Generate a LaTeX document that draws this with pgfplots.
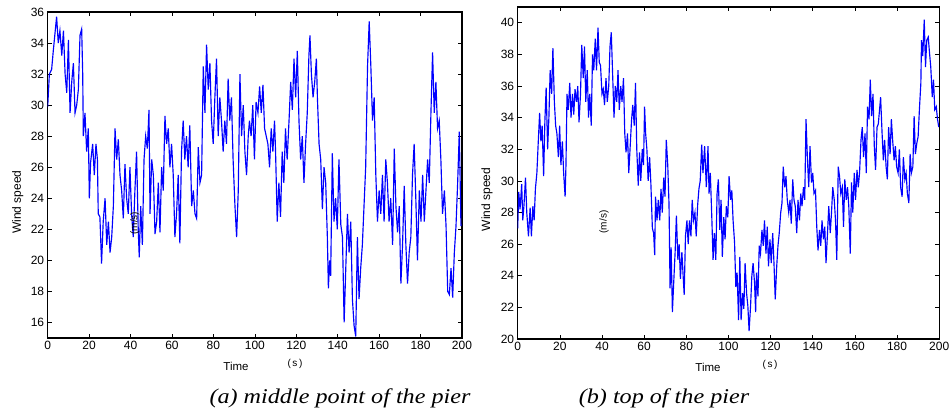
\documentclass[border=0pt]{standalone}
\usepackage{fontspec}
\setmainfont{Liberation Sans}
\newfontfamily\capfont[FakeStretch=1.15]{Liberation Serif}
\usepackage{pgfplots}
\pgfplotsset{compat=1.18}

% wind speed at the middle point of the pier
\pgfplotstableread{
t y
0 29.9
0.8 32.0
1.9 32.3
2.7 33.5
3.5 34.6
4.3 35.7
5.1 34.0
5.9 34.8
6.8 33.2
7.6 34.8
8.4 32.0
9.2 30.8
10.0 34.2
10.8 29.5
11.6 31.5
12.4 32.7
13.2 29.5
14.0 30.0
14.8 31.0
15.6 34.5
16.4 34.9
16.9 32.0
17.2 28.0
18.0 29.5
18.8 27.0
19.6 28.5
20.1 24.0
20.7 26.3
21.7 27.5
22.5 25.5
23.3 27.5
24.0 26.5
24.4 23.0
25.2 22.8
26.0 19.8
26.8 22.5
27.7 24.0
28.5 21.0
29.3 22.5
30.1 20.5
30.9 21.5
31.7 23.5
32.5 28.5
33.3 26.5
34.1 27.8
34.9 25.5
35.7 24.5
36.5 22.7
37.3 26.2
38.1 24.0
38.9 23.0
39.7 26.0
40.5 23.0
41.3 21.5
42.1 24.5
42.9 27.0
43.7 22.0
44.2 20.2
44.9 23.5
45.7 21.0
46.5 26.5
47.3 28.0
48.1 27.2
48.9 29.7
49.4 23.0
50.2 26.5
51.0 25.5
51.8 21.7
52.6 22.5
53.4 25.0
54.2 21.8
55.0 26.0
55.8 24.5
56.6 29.3
57.4 27.5
58.2 28.5
59.0 26.0
59.8 27.5
60.6 25.5
61.4 21.5
62.2 23.0
63.0 25.5
63.8 21.1
64.6 27.0
65.4 29.0
66.2 26.5
67.0 28.0
67.8 26.0
68.6 28.7
69.5 23.5
70.3 24.5
71.1 23.0
71.9 22.7
72.7 27.3
73.5 25.0
74.3 25.5
75.1 32.5
75.9 29.5
76.7 33.9
77.5 31.0
78.3 32.7
79.1 29.0
79.9 27.5
80.7 30.5
81.5 33.0
82.3 28.0
83.1 30.5
83.9 29.0
84.7 27.0
85.5 29.0
86.3 27.5
87.1 31.7
87.9 29.0
88.7 30.5
89.5 26.5
90.4 23.5
91.2 21.5
92.0 24.5
92.8 32.0
93.6 28.0
94.4 30.0
95.2 27.0
96.0 25.5
96.8 28.0
97.4 29.0
98.2 28.0
99.0 30.0
99.8 26.5
100.6 30.2
101.5 29.5
102.3 31.2
103.1 29.5
103.9 31.3
104.7 28.5
105.5 28.0
106.3 27.5
107.1 26.0
107.9 28.5
108.7 27.0
109.5 29.0
110.0 27.0
110.8 22.5
111.6 25.0
112.4 22.8
113.2 27.0
114.0 25.0
114.8 28.5
115.6 26.5
116.5 29.0
117.3 31.5
118.1 29.7
118.9 33.0
119.7 30.5
120.5 33.5
121.3 29.0
122.1 26.5
122.9 28.0
123.7 25.0
124.5 27.5
125.3 29.5
126.1 33.2
126.6 34.5
127.3 32.0
128.1 30.5
128.9 31.5
129.7 33.0
130.2 30.5
131.0 27.5
131.8 26.5
132.6 23.3
133.4 26.0
134.2 25.0
135.0 21.5
135.5 18.2
136.1 20.0
136.6 19.0
137.4 26.9
138.2 22.5
139.0 24.0
139.8 22.0
140.6 26.5
141.5 22.3
142.3 21.5
143.1 16.0
143.9 19.5
144.7 23.0
145.5 20.5
146.3 22.5
147.1 17.5
147.9 15.8
148.7 15.1
149.5 21.5
150.3 17.5
151.1 19.5
151.9 21.0
152.7 23.5
153.5 26.0
154.4 32.5
155.2 35.4
156.0 32.5
156.8 29.0
157.6 30.5
158.4 25.5
159.2 22.5
160.0 24.5
160.8 23.0
161.6 25.5
162.4 22.5
163.2 26.5
164.0 25.0
164.8 22.5
165.6 24.0
166.5 21.0
167.3 27.2
168.1 23.5
168.9 21.8
169.7 23.5
170.5 18.5
171.3 21.0
172.1 24.8
172.9 21.0
173.7 18.5
174.5 20.5
175.3 21.5
176.1 25.5
176.9 27.5
177.7 24.0
178.5 20.0
179.4 24.5
180.2 22.5
181.0 25.5
181.8 22.5
182.6 24.5
183.4 26.5
184.2 25.0
185.0 29.5
185.8 33.4
186.6 29.5
187.4 31.5
188.2 28.5
189.0 29.0
189.8 26.5
190.6 23.0
191.5 24.5
192.3 22.2
193.1 18.0
193.9 17.8
194.7 19.5
195.5 17.6
196.3 20.5
197.1 22.2
197.9 25.0
198.7 28.3
199.5 22.2
}\middata

% wind speed at the top of the pier
\pgfplotstableread{
t y
0 27.0
0.5 29.3
1.1 28.2
1.9 29.8
2.4 27.5
3.0 28.5
3.7 30.2
4.3 28.0
5.1 26.5
5.9 28.3
6.5 26.5
7.2 28.4
7.8 27.5
8.4 29.5
9.1 30.5
9.7 32.3
10.4 34.3
11.0 32.5
11.6 33.5
12.3 30.3
12.9 33.8
13.5 35.9
14.2 32.0
14.8 34.0
15.4 37.0
16.1 35.5
16.7 38.4
17.4 35.0
18.0 33.5
18.6 33.0
19.3 31.5
19.9 33.5
20.5 31.0
21.2 32.5
21.8 30.5
22.5 29.0
22.9 31.0
23.4 35.5
24.0 34.5
24.7 36.2
25.3 34.0
26.0 35.5
26.6 34.2
27.2 35.8
27.9 35.0
28.5 36.0
29.1 33.7
29.8 35.5
30.4 38.6
31.1 36.5
31.7 38.5
32.3 35.0
33.0 37.0
33.6 34.0
34.2 35.5
34.9 33.5
35.5 38.0
36.1 37.0
36.8 39.0
37.4 37.0
38.1 39.7
38.7 37.5
39.3 37.3
40.0 35.5
40.6 35.8
41.2 34.8
41.9 36.5
42.5 35.0
43.2 36.0
43.8 38.5
44.4 39.4
45.1 36.5
45.7 34.0
46.3 36.0
47.0 35.0
47.6 37.0
48.2 34.5
48.9 36.0
49.5 35.0
50.2 36.5
50.8 33.0
51.4 31.8
52.1 33.0
52.7 30.5
53.3 32.0
54.0 33.8
54.6 34.8
55.3 33.5
55.9 36.2
56.5 32.0
57.2 29.7
57.8 31.8
58.4 30.0
59.1 32.0
59.7 31.0
60.2 34.7
60.7 33.0
61.3 32.0
61.9 30.0
62.6 31.5
63.2 29.8
63.9 27.0
64.5 26.7
65.0 25.3
65.4 29.0
66.1 27.5
66.7 28.8
67.4 27.5
68.0 29.5
68.6 28.0
69.3 30.2
69.9 29.0
70.5 32.6
71.2 31.0
71.8 28.5
72.3 23.2
72.8 25.8
73.4 21.7
74.0 23.5
74.7 25.5
75.3 27.8
76.0 25.0
76.6 26.0
77.2 23.8
77.9 25.5
78.5 24.0
79.0 22.8
79.6 26.5
80.3 27.5
80.9 26.0
81.5 27.5
82.2 26.5
82.8 28.8
83.4 27.5
84.1 28.0
84.7 26.5
85.4 28.5
86.0 29.5
86.6 30.0
87.3 32.3
87.9 30.5
88.7 32.2
89.5 29.6
90.3 32.2
90.8 29.2
91.4 30.5
92.1 27.7
92.7 25.0
93.3 26.7
94.0 25.0
94.6 29.2
95.2 30.1
95.9 26.9
96.5 28.8
97.1 25.2
97.8 27.7
98.4 26.3
99.0 28.4
99.7 27.7
100.3 30.3
101.0 28.8
101.6 29.4
102.2 27.5
102.9 26.1
103.5 23.3
104.1 24.2
104.8 21.2
105.4 25.2
106.0 21.2
106.7 22.9
107.3 21.9
107.9 24.8
108.6 22.9
109.2 22.1
109.8 20.5
110.5 22.1
111.1 24.0
111.7 24.8
112.4 23.5
112.9 21.7
113.3 24.2
114.0 22.7
114.6 25.9
115.2 25.4
115.9 26.9
116.5 25.9
117.1 27.5
117.8 25.4
118.4 27.1
119.0 24.6
119.7 26.3
120.3 24.8
121.0 26.7
121.6 24.8
122.2 22.5
122.9 24.6
123.5 25.9
124.1 26.7
124.8 28.0
125.4 28.6
126.0 30.9
126.7 29.6
127.3 30.3
127.9 28.8
128.6 28.0
129.2 28.8
129.8 27.3
130.5 30.1
131.1 28.8
131.7 28.4
132.4 26.7
133.0 28.8
133.7 27.5
134.3 29.2
134.9 28.4
135.6 29.6
136.2 28.8
136.8 33.9
137.5 31.3
138.1 29.6
138.7 32.2
139.4 29.9
140.0 30.5
140.6 29.2
141.3 29.4
141.9 27.1
142.5 25.6
143.2 26.9
143.8 25.9
144.4 27.5
145.1 26.3
145.7 27.1
146.3 24.8
147.0 26.7
147.6 28.4
148.3 26.7
148.9 28.0
149.5 29.6
150.2 28.8
150.8 27.5
151.4 25.0
152.1 30.9
152.7 30.3
153.3 29.2
154.0 29.6
154.6 27.1
155.2 30.1
155.9 28.8
156.5 29.6
157.1 28.4
157.8 25.4
158.4 29.9
159.0 28.0
159.7 30.5
160.3 28.8
161.0 30.7
161.6 29.6
162.2 30.5
162.9 32.6
163.5 33.4
164.1 31.5
164.8 33.0
165.4 30.5
166.0 34.7
166.7 33.9
167.3 36.4
167.9 34.1
168.6 35.5
169.2 32.2
169.8 30.7
170.5 33.4
171.1 33.6
171.7 34.5
172.2 35.3
172.9 33.0
173.5 31.3
174.1 32.6
174.8 30.9
175.4 30.1
176.0 33.4
176.7 31.7
177.3 33.9
177.9 32.6
178.6 31.3
179.2 32.2
179.8 30.9
180.5 30.5
181.1 32.0
181.7 29.6
182.4 29.0
183.0 31.5
183.7 30.1
184.3 30.5
184.9 29.2
185.6 28.6
186.2 31.7
186.8 30.5
187.5 30.9
188.1 34.1
188.7 31.7
189.4 32.4
190.0 32.8
190.6 34.5
191.3 36.2
191.6 38.9
192.2 37.9
192.9 40.2
193.5 37.2
194.1 38.9
194.8 39.1
195.4 38.1
196.0 37.2
196.7 35.3
197.3 36.4
197.9 34.5
198.6 34.7
199.2 33.9
199.8 33.4
}\topdata

\pgfplotsset{
  windaxis/.style={
    scale only axis,
    xmin=0, xmax=200,
    xtick={0,20,...,200},
    tick align=inside,
    major tick length=4pt,
    tick style={black, line width=0.7pt},
    axis line style={black, line width=1.1pt},
    ticklabel style={font=\fontsize{12}{14}\selectfont},
    /pgf/number format/assume math mode=true,
    ylabel={Wind speed},
    ylabel style={font=\fontsize{12}{14}\selectfont, anchor=center},
  },
}

\begin{document}
\begin{tikzpicture}
\path[use as bounding box] (0pt,0pt) rectangle (951pt,414pt);

\begin{axis}[windaxis,
  at={(47.7pt,76pt)}, anchor=south west,
  width=414.3pt, height=326pt,
  ymin=15, ymax=36, ytick={16,18,...,36},
  ylabel style={at={(axis description cs:-0.072,0.417)}},
]
\addplot[blue, line width=1.15pt] table[x=t, y=y] {\middata};
\node[rotate=90, font=\fontsize{10}{12}\selectfont] at (axis cs:42,22.4) {(m/s)};
\end{axis}

\begin{axis}[windaxis,
  at={(517.7pt,75pt)}, anchor=south west,
  width=421.5pt, height=332pt,
  ymin=20, ymax=41, ytick={20,22,...,40},
  ylabel style={at={(axis description cs:-0.073,0.42)}},
]
\addplot[blue, line width=1.15pt] table[x=t, y=y] {\topdata};
\node[rotate=90, font=\fontsize{10}{12}\selectfont] at (axis cs:41,27.4) {(m/s)};
\end{axis}

\node[font=\fontsize{11.5}{13}\selectfont] at (236pt,48pt) {Time};
\node[font=\fontsize{10}{12}\selectfont] at (295pt,50pt) {(\,s\,)};
\node[font=\fontsize{11.5}{13}\selectfont] at (708pt,47pt) {Time};
\node[font=\fontsize{10}{12}\selectfont] at (770pt,49pt) {(\,s\,)};

\node[font=\capfont\itshape\fontsize{21}{24}\selectfont] at (340pt,16pt) {(a) middle point of the pier};
\node[font=\capfont\itshape\fontsize{21}{24}\selectfont] at (664pt,16pt) {(b) top of the pier};
\end{tikzpicture}
\end{document}
